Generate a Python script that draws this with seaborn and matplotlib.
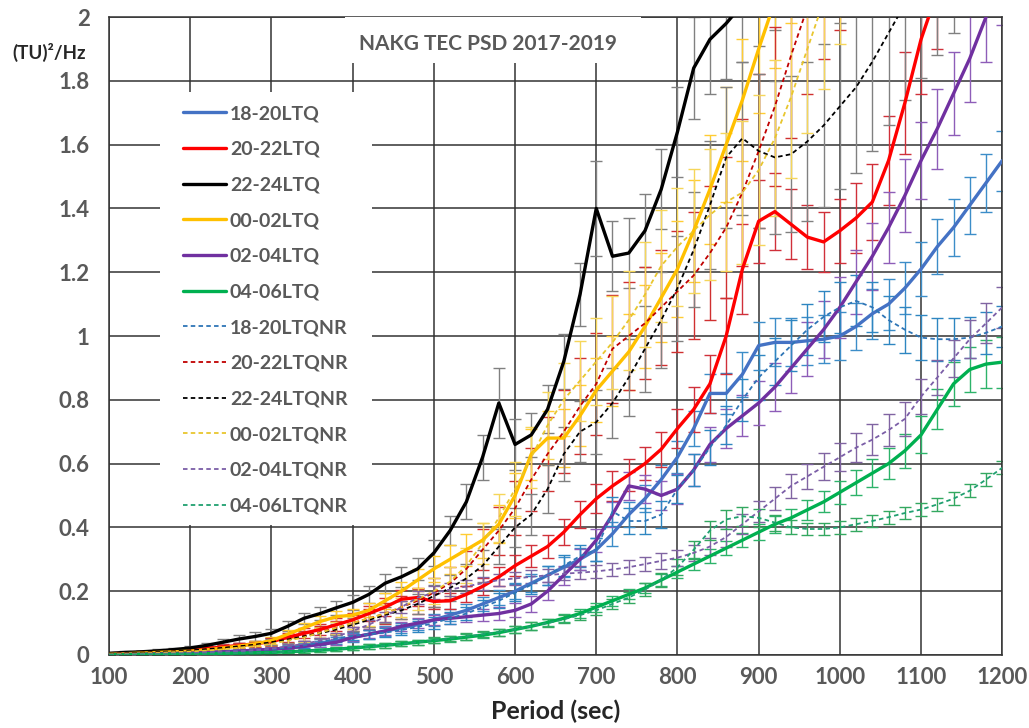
import matplotlib
matplotlib.use("Agg")
import matplotlib.pyplot as plt
from matplotlib.lines import Line2D
from matplotlib.patches import Rectangle
import seaborn as sns

# ---- data (20 s steps) ---- #
period = list(range(100, 1201, 20))

# 18-20 LT
ltq_18_20 = [0.001, 0.002, 0.003, 0.004, 0.005, 0.006, 0.008, 0.010, 0.012, 0.015,
             0.018, 0.022, 0.027, 0.035, 0.045, 0.055, 0.065, 0.075, 0.085, 0.095,
             0.110, 0.125, 0.140, 0.160, 0.180, 0.200, 0.225, 0.250, 0.275, 0.300,
             0.330, 0.380, 0.440, 0.490, 0.550, 0.620, 0.710, 0.820, 0.820, 0.880,
             0.970, 0.980, 0.980, 0.985, 0.990, 1.000, 1.030, 1.070, 1.100, 1.150,
             1.210, 1.280, 1.340, 1.410, 1.480, 1.550]
ltq_18_20_err = [0.001, 0.001, 0.002, 0.002, 0.002, 0.003, 0.003, 0.004, 0.004, 0.005,
                 0.006, 0.007, 0.008, 0.010, 0.012, 0.013, 0.014, 0.015, 0.016, 0.017,
                 0.018, 0.019, 0.020, 0.022, 0.024, 0.026, 0.028, 0.030, 0.032, 0.034,
                 0.036, 0.038, 0.040, 0.043, 0.046, 0.050, 0.055, 0.060, 0.065, 0.070,
                 0.075, 0.075, 0.075, 0.075, 0.075, 0.075, 0.075, 0.078, 0.080, 0.082,
                 0.084, 0.086, 0.088, 0.090, 0.092, 0.094]
ltqnr_18_20 = [0.001, 0.002, 0.003, 0.004, 0.005, 0.006, 0.008, 0.010, 0.012, 0.015,
               0.018, 0.023, 0.030, 0.040, 0.052, 0.060, 0.065, 0.070, 0.078, 0.088,
               0.100, 0.115, 0.130, 0.150, 0.170, 0.195, 0.220, 0.250, 0.280, 0.310,
               0.330, 0.450, 0.420, 0.420, 0.440, 0.520, 0.580, 0.650, 0.720, 0.800,
               0.870, 0.920, 0.970, 1.020, 1.060, 1.090, 1.110, 1.090, 1.050, 1.020,
               0.995, 0.990, 0.990, 0.995, 1.010, 1.030]
ltqnr_18_20_err = [0.001, 0.001, 0.002, 0.002, 0.002, 0.003, 0.003, 0.004, 0.004, 0.005,
                   0.006, 0.007, 0.008, 0.010, 0.012, 0.013, 0.014, 0.015, 0.016, 0.017,
                   0.018, 0.019, 0.020, 0.022, 0.024, 0.026, 0.028, 0.030, 0.032, 0.034,
                   0.036, 0.045, 0.040, 0.040, 0.042, 0.045, 0.050, 0.055, 0.060, 0.065,
                   0.070, 0.075, 0.080, 0.080, 0.080, 0.080, 0.080, 0.078, 0.075, 0.072,
                   0.070, 0.068, 0.066, 0.065, 0.065, 0.065]

# 20-22 LT
ltq_20_22 = [0.004, 0.006, 0.008, 0.010, 0.013, 0.016, 0.020, 0.025, 0.030, 0.035,
             0.042, 0.055, 0.068, 0.080, 0.095, 0.110, 0.130, 0.150, 0.175, 0.180,
             0.168, 0.170, 0.190, 0.215, 0.245, 0.280, 0.310, 0.340, 0.385, 0.440,
             0.490, 0.530, 0.565, 0.600, 0.645, 0.710, 0.770, 0.850, 1.000, 1.210,
             1.360, 1.390, 1.350, 1.310, 1.295, 1.330, 1.370, 1.420, 1.550, 1.730,
             1.930, 2.080, 2.200, 2.300, 2.400, 2.500]
ltq_20_22_err = [0.003, 0.003, 0.004, 0.004, 0.005, 0.006, 0.007, 0.008, 0.009, 0.010,
                 0.012, 0.014, 0.016, 0.018, 0.020, 0.022, 0.025, 0.028, 0.030, 0.028,
                 0.025, 0.025, 0.025, 0.027, 0.030, 0.032, 0.035, 0.037, 0.040, 0.042,
                 0.045, 0.047, 0.050, 0.052, 0.055, 0.060, 0.070, 0.090, 0.120, 0.140,
                 0.130, 0.120, 0.110, 0.100, 0.095, 0.100, 0.110, 0.120, 0.140, 0.160,
                 0.170, 0.180, 0.190, 0.200, 0.210, 0.220]
ltqnr_20_22 = [0.003, 0.005, 0.007, 0.009, 0.011, 0.014, 0.018, 0.022, 0.027, 0.032,
               0.040, 0.050, 0.060, 0.072, 0.085, 0.100, 0.115, 0.130, 0.150, 0.170,
               0.195, 0.225, 0.270, 0.330, 0.390, 0.460, 0.550, 0.630, 0.700, 0.780,
               0.850, 0.960, 1.000, 1.040, 1.090, 1.140, 1.190, 1.260, 1.340, 1.450,
               1.580, 1.720, 1.880, 2.030, 2.150, 2.250, 2.350, 2.450, 2.550, 2.650,
               2.750, 2.850, 2.950, 3.050, 3.150, 3.250]
ltqnr_20_22_err = [0.002, 0.003, 0.004, 0.004, 0.005, 0.006, 0.007, 0.008, 0.009, 0.010,
                   0.012, 0.014, 0.016, 0.018, 0.020, 0.024, 0.028, 0.032, 0.036, 0.040,
                   0.045, 0.050, 0.055, 0.065, 0.075, 0.085, 0.100, 0.115, 0.130, 0.150,
                   0.160, 0.170, 0.170, 0.175, 0.180, 0.190, 0.200, 0.210, 0.220, 0.230,
                   0.240, 0.250, 0.260, 0.270, 0.280, 0.290, 0.300, 0.310, 0.320, 0.330,
                   0.340, 0.350, 0.360, 0.370, 0.380, 0.390]

# 22-24 LT
ltq_22_24 = [0.005, 0.008, 0.010, 0.013, 0.017, 0.022, 0.030, 0.040, 0.050, 0.058,
             0.068, 0.090, 0.115, 0.130, 0.148, 0.165, 0.190, 0.225, 0.245, 0.270,
             0.320, 0.390, 0.480, 0.620, 0.790, 0.660, 0.690, 0.770, 0.920, 1.130,
             1.400, 1.250, 1.260, 1.330, 1.460, 1.640, 1.840, 1.930, 1.980, 2.040,
             2.100, 2.160, 2.220, 2.280, 2.340, 2.400, 2.460, 2.520, 2.580, 2.640,
             2.700, 2.760, 2.820, 2.880, 2.940, 3.000]
ltq_22_24_err = [0.003, 0.004, 0.004, 0.005, 0.006, 0.007, 0.008, 0.010, 0.012, 0.013,
                 0.014, 0.016, 0.018, 0.020, 0.022, 0.024, 0.026, 0.030, 0.032, 0.035,
                 0.040, 0.045, 0.055, 0.070, 0.110, 0.080, 0.070, 0.075, 0.085, 0.100,
                 0.150, 0.110, 0.110, 0.115, 0.125, 0.140, 0.160, 0.170, 0.175, 0.180,
                 0.190, 0.200, 0.200, 0.210, 0.210, 0.220, 0.220, 0.230, 0.230, 0.240,
                 0.240, 0.250, 0.250, 0.260, 0.260, 0.270]
ltqnr_22_24 = [0.003, 0.005, 0.007, 0.009, 0.011, 0.014, 0.018, 0.022, 0.027, 0.032,
               0.040, 0.048, 0.058, 0.068, 0.080, 0.095, 0.110, 0.125, 0.140, 0.160,
               0.185, 0.210, 0.240, 0.280, 0.340, 0.400, 0.440, 0.520, 0.630, 0.700,
               0.730, 0.790, 0.870, 0.960, 1.050, 1.150, 1.270, 1.410, 1.560, 1.620,
               1.580, 1.560, 1.570, 1.610, 1.660, 1.720, 1.780, 1.860, 1.950, 2.040,
               2.120, 2.200, 2.280, 2.360, 2.440, 2.520]
ltqnr_22_24_err = [0.002, 0.003, 0.003, 0.004, 0.004, 0.005, 0.006, 0.007, 0.008, 0.009,
                   0.010, 0.012, 0.014, 0.016, 0.018, 0.020, 0.022, 0.025, 0.028, 0.030,
                   0.035, 0.040, 0.045, 0.050, 0.055, 0.060, 0.065, 0.075, 0.085, 0.095,
                   0.100, 0.110, 0.120, 0.135, 0.150, 0.165, 0.180, 0.200, 0.220, 0.240,
                   0.240, 0.240, 0.245, 0.250, 0.255, 0.260, 0.270, 0.280, 0.290, 0.300,
                   0.310, 0.320, 0.330, 0.340, 0.350, 0.360]

# 00-02 LT
ltq_00_02 = [0.002, 0.004, 0.006, 0.008, 0.010, 0.012, 0.016, 0.022, 0.028, 0.035,
             0.045, 0.065, 0.085, 0.105, 0.120, 0.125, 0.140, 0.170, 0.200, 0.235,
             0.270, 0.300, 0.330, 0.360, 0.410, 0.500, 0.630, 0.680, 0.680, 0.750,
             0.830, 0.890, 0.950, 1.030, 1.120, 1.210, 1.330, 1.460, 1.600, 1.740,
             1.900, 2.050, 2.200, 2.350, 2.500, 2.650, 2.800, 2.950, 3.100, 3.250,
             3.400, 3.550, 3.700, 3.850, 4.000, 4.150]
ltq_00_02_err = [0.002, 0.002, 0.003, 0.003, 0.004, 0.004, 0.005, 0.006, 0.007, 0.008,
                 0.010, 0.012, 0.014, 0.016, 0.018, 0.020, 0.022, 0.025, 0.030, 0.035,
                 0.040, 0.045, 0.050, 0.055, 0.060, 0.070, 0.080, 0.085, 0.090, 0.095,
                 0.100, 0.110, 0.120, 0.130, 0.140, 0.150, 0.160, 0.170, 0.180, 0.190,
                 0.200, 0.210, 0.220, 0.230, 0.240, 0.250, 0.260, 0.270, 0.280, 0.290,
                 0.300, 0.310, 0.320, 0.330, 0.340, 0.350]
ltqnr_00_02 = [0.002, 0.004, 0.005, 0.007, 0.009, 0.011, 0.014, 0.018, 0.023, 0.028,
               0.035, 0.045, 0.055, 0.070, 0.085, 0.100, 0.115, 0.130, 0.150, 0.175,
               0.200, 0.230, 0.280, 0.350, 0.430, 0.520, 0.620, 0.720, 0.800, 0.860,
               0.920, 0.980, 1.050, 1.130, 1.220, 1.280, 1.330, 1.380, 1.420, 1.450,
               1.520, 1.620, 1.750, 1.900, 2.050, 2.200, 2.350, 2.500, 2.650, 2.800,
               2.950, 3.100, 3.250, 3.400, 3.550, 3.700]
ltqnr_00_02_err = [0.002, 0.002, 0.003, 0.003, 0.004, 0.004, 0.005, 0.006, 0.007, 0.008,
                   0.010, 0.012, 0.014, 0.016, 0.018, 0.020, 0.023, 0.026, 0.030, 0.035,
                   0.040, 0.045, 0.055, 0.065, 0.075, 0.085, 0.095, 0.105, 0.115, 0.125,
                   0.135, 0.145, 0.155, 0.165, 0.175, 0.185, 0.195, 0.205, 0.215, 0.225,
                   0.235, 0.245, 0.255, 0.265, 0.275, 0.285, 0.295, 0.305, 0.315, 0.325,
                   0.335, 0.345, 0.355, 0.365, 0.375, 0.385]

# 02-04 LT
ltq_02_04 = [0.001, 0.002, 0.003, 0.004, 0.005, 0.006, 0.008, 0.010, 0.012, 0.015,
             0.018, 0.022, 0.027, 0.033, 0.040, 0.055, 0.065, 0.075, 0.090, 0.100,
             0.110, 0.115, 0.120, 0.125, 0.130, 0.140, 0.160, 0.200, 0.250, 0.300,
             0.360, 0.440, 0.530, 0.520, 0.500, 0.520, 0.580, 0.660, 0.710, 0.750,
             0.790, 0.840, 0.900, 0.960, 1.020, 1.090, 1.170, 1.250, 1.340, 1.440,
             1.550, 1.650, 1.760, 1.870, 2.000, 2.120]
ltq_02_04_err = [0.001, 0.001, 0.002, 0.002, 0.002, 0.003, 0.003, 0.004, 0.004, 0.005,
                 0.006, 0.007, 0.008, 0.009, 0.010, 0.011, 0.012, 0.013, 0.014, 0.015,
                 0.016, 0.017, 0.018, 0.019, 0.020, 0.022, 0.025, 0.028, 0.030, 0.033,
                 0.036, 0.040, 0.045, 0.045, 0.045, 0.047, 0.050, 0.055, 0.060, 0.065,
                 0.070, 0.075, 0.080, 0.085, 0.090, 0.095, 0.100, 0.105, 0.110, 0.115,
                 0.120, 0.125, 0.130, 0.135, 0.140, 0.145]
ltqnr_02_04 = [0.001, 0.002, 0.003, 0.004, 0.005, 0.006, 0.008, 0.010, 0.012, 0.015,
               0.020, 0.027, 0.035, 0.045, 0.058, 0.075, 0.095, 0.120, 0.150, 0.180,
               0.195, 0.205, 0.215, 0.225, 0.235, 0.240, 0.245, 0.250, 0.255, 0.258,
               0.262, 0.268, 0.275, 0.285, 0.295, 0.305, 0.320, 0.340, 0.370, 0.410,
               0.450, 0.490, 0.530, 0.560, 0.590, 0.620, 0.650, 0.675, 0.705, 0.740,
               0.810, 0.870, 0.930, 0.990, 1.040, 1.090]
ltqnr_02_04_err = [0.001, 0.001, 0.002, 0.002, 0.002, 0.003, 0.003, 0.004, 0.004, 0.005,
                   0.006, 0.007, 0.008, 0.009, 0.010, 0.012, 0.014, 0.016, 0.018, 0.020,
                   0.020, 0.020, 0.020, 0.020, 0.020, 0.020, 0.020, 0.020, 0.020, 0.020,
                   0.020, 0.021, 0.022, 0.023, 0.024, 0.025, 0.026, 0.028, 0.030, 0.032,
                   0.034, 0.036, 0.038, 0.040, 0.042, 0.044, 0.046, 0.048, 0.050, 0.052,
                   0.054, 0.056, 0.058, 0.060, 0.062, 0.064]

# 04-06 LT
ltq_04_06 = [0.001, 0.001, 0.002, 0.002, 0.003, 0.003, 0.004, 0.005, 0.006, 0.007,
             0.008, 0.010, 0.012, 0.015, 0.018, 0.022, 0.026, 0.030, 0.035, 0.040,
             0.045, 0.050, 0.056, 0.062, 0.070, 0.080, 0.090, 0.102, 0.115, 0.130,
             0.150, 0.170, 0.190, 0.210, 0.235, 0.260, 0.285, 0.310, 0.335, 0.360,
             0.385, 0.410, 0.430, 0.455, 0.480, 0.510, 0.540, 0.570, 0.600, 0.640,
             0.690, 0.770, 0.850, 0.895, 0.912, 0.918]
ltq_04_06_err = [0.001, 0.001, 0.001, 0.001, 0.002, 0.002, 0.002, 0.003, 0.003, 0.003,
                 0.004, 0.004, 0.005, 0.005, 0.006, 0.006, 0.007, 0.007, 0.008, 0.008,
                 0.009, 0.009, 0.010, 0.010, 0.011, 0.011, 0.012, 0.012, 0.013, 0.013,
                 0.014, 0.015, 0.016, 0.017, 0.018, 0.019, 0.020, 0.021, 0.022, 0.023,
                 0.025, 0.027, 0.029, 0.031, 0.033, 0.036, 0.040, 0.044, 0.048, 0.053,
                 0.058, 0.063, 0.068, 0.072, 0.076, 0.080]
ltqnr_04_06 = [0.001, 0.001, 0.002, 0.002, 0.003, 0.003, 0.004, 0.005, 0.006, 0.007,
               0.008, 0.010, 0.012, 0.015, 0.018, 0.022, 0.026, 0.030, 0.035, 0.040,
               0.046, 0.052, 0.058, 0.065, 0.072, 0.080, 0.090, 0.100, 0.112, 0.125,
               0.140, 0.160, 0.180, 0.205, 0.235, 0.275, 0.330, 0.390, 0.425, 0.435,
               0.430, 0.415, 0.400, 0.395, 0.395, 0.400, 0.410, 0.420, 0.432, 0.445,
               0.456, 0.472, 0.490, 0.515, 0.550, 0.587]
ltqnr_04_06_err = [0.001, 0.001, 0.001, 0.001, 0.002, 0.002, 0.002, 0.003, 0.003, 0.003,
                   0.004, 0.004, 0.005, 0.005, 0.006, 0.006, 0.007, 0.007, 0.008, 0.008,
                   0.009, 0.009, 0.010, 0.010, 0.011, 0.011, 0.012, 0.012, 0.013, 0.014,
                   0.015, 0.016, 0.018, 0.020, 0.022, 0.025, 0.028, 0.030, 0.030, 0.030,
                   0.028, 0.025, 0.022, 0.020, 0.020, 0.020, 0.020, 0.020, 0.020, 0.020,
                   0.020, 0.020, 0.020, 0.020, 0.020, 0.020]

y_ticks = [0, 0.2, 0.4, 0.6, 0.8, 1.0, 1.2, 1.4, 1.6, 1.8, 2.0]
y_tick_labels = ["0", "0.2", "0.4", "0.6", "0.8", "1", "1.2", "1.4", "1.6", "1.8", "2"]
x_ticks = list(range(100, 1201, 100))

# label, values, errors, line colour, error-bar colour, solid/dashed
series = [
    ("18-20LTQ", ltq_18_20, ltq_18_20_err, "#4472C4", "#3C8DC8", "solid"),
    ("20-22LTQ", ltq_20_22, ltq_20_22_err, "#FF0000", "#D0303A", "solid"),
    ("22-24LTQ", ltq_22_24, ltq_22_24_err, "#000000", "#808080", "solid"),
    ("00-02LTQ", ltq_00_02, ltq_00_02_err, "#FFC000", "#FFCC33", "solid"),
    ("02-04LTQ", ltq_02_04, ltq_02_04_err, "#7030A0", "#8E5DB8", "solid"),
    ("04-06LTQ", ltq_04_06, ltq_04_06_err, "#00B050", "#2DB36A", "solid"),
    ("18-20LTQNR", ltqnr_18_20, ltqnr_18_20_err, "#2E75B6", "#2E86C1", "dashed"),
    ("20-22LTQNR", ltqnr_20_22, ltqnr_20_22_err, "#C00000", "#D03030", "dashed"),
    ("22-24LTQNR", ltqnr_22_24, ltqnr_22_24_err, "#000000", "#808080", "dashed"),
    ("00-02LTQNR", ltqnr_00_02, ltqnr_00_02_err, "#E8C62E", "#F5D65A", "dashed"),
    ("02-04LTQNR", ltqnr_02_04, ltqnr_02_04_err, "#7B5EA7", "#8064A2", "dashed"),
    ("04-06LTQNR", ltqnr_04_06, ltqnr_04_06_err, "#20A070", "#33A860", "dashed"),
]

DASH = (0, (2.5, 1.8))

sns.set_theme(style="white")
plt.rcParams["font.family"] = ["Lato", "DejaVu Sans"]

fig, ax = plt.subplots(figsize=(10.29, 7.28), dpi=100)
fig.subplots_adjust(left=0.106, right=0.974, bottom=0.1003, top=0.9766)

for name, vals, errs, lc, ec, kind in series:
    ax.errorbar(period, vals, yerr=errs, fmt="none", ecolor=ec,
                elinewidth=1.0, capsize=4, capthick=1.0, zorder=2)
    if kind == "solid":
        sns.lineplot(x=period, y=vals, color=lc, linewidth=2.4, ax=ax, zorder=3)
    else:
        sns.lineplot(x=period, y=vals, color=lc, linewidth=1.3, linestyle=DASH, ax=ax, zorder=3)

ax.set_xlim(100, 1200)
ax.set_ylim(0, 2)
ax.set_xticks(x_ticks)
ax.set_yticks(y_ticks)
ax.set_yticklabels(y_tick_labels)
ax.grid(True, color="#333333", linewidth=1.1)
ax.set_axisbelow(True)
for sp in ax.spines.values():
    sp.set_color("#333333")
    sp.set_linewidth(1.1)

ax.tick_params(axis="both", length=0, labelsize=16, labelcolor="#595959")
ax.tick_params(axis="y", pad=14)
ax.tick_params(axis="x", pad=9)
for lbl in ax.get_xticklabels() + ax.get_yticklabels():
    lbl.set_fontweight("bold")

ax.set_xlabel("Period (sec)", fontsize=18, fontweight="bold", color="#262626", labelpad=8)
ax.set_ylabel("")
fig.text(0.012, 0.928, "(TU)²/Hz", fontsize=13.5, fontweight="bold", color="#262626",
         ha="left", va="center")

# title box (covers the grid like the Excel chart title)
ax.add_patch(Rectangle((0.264, 0.928), 0.331, 0.072, transform=ax.transAxes,
                       facecolor="white", edgecolor="none", zorder=4))
ax.text(0.424, 0.958, "NAKG TEC PSD 2017-2019", transform=ax.transAxes, fontsize=15,
        fontweight="bold", color="#595959", ha="center", va="center", zorder=5)

# legend box
ax.add_patch(Rectangle((0.057, 0.204), 0.2375, 0.678, transform=ax.transAxes,
                       facecolor="white", edgecolor="none", zorder=4))
handles = []
for name, vals, errs, lc, ec, kind in series:
    if kind == "solid":
        handles.append(Line2D([], [], color=lc, linewidth=2.4, label=name))
    else:
        handles.append(Line2D([], [], color=lc, linewidth=1.3, linestyle=DASH, label=name))
leg = ax.legend(handles=handles, loc="upper left", bbox_to_anchor=(0.0829, 0.862),
                frameon=False, prop={"weight": "bold", "size": 14}, labelcolor="#595959",
                handlelength=2.2, handletextpad=0.2, labelspacing=0.96,
                borderpad=0, borderaxespad=0)
leg.set_zorder(6)

fig.savefig("out.png", dpi=100)
